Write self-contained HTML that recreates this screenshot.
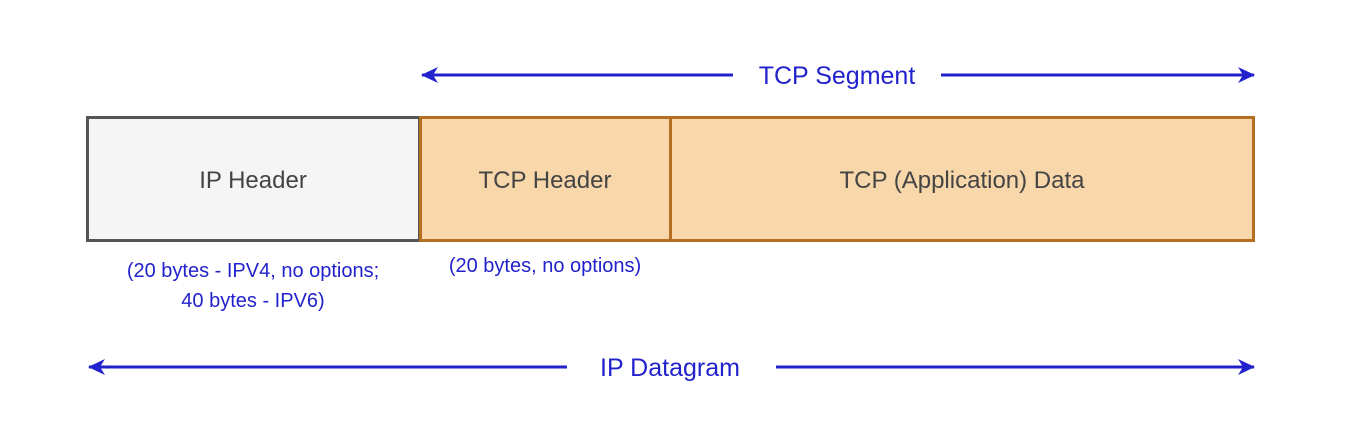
<!DOCTYPE html>
<html><head><style>body{margin:0;background:#fff}svg{display:block}</style></head>
<body>
<svg width="1368" height="444" viewBox="0 0 1368 444" xmlns="http://www.w3.org/2000/svg" font-family="Liberation Sans, sans-serif">
<defs>
<marker id="a" markerWidth="17" markerHeight="16" refX="16" refY="8" orient="auto-start-reverse" markerUnits="userSpaceOnUse" viewBox="0 0 17 16">
<path d="M0,0 L17,8 L0,16 L5,8 Z" fill="#2222cc"/></marker>
</defs>
<g stroke="#2222cc" stroke-width="3" fill="none">
<line x1="422" y1="75" x2="733" y2="75" marker-start="url(#a)"/>
<line x1="941" y1="75" x2="1254" y2="75" marker-end="url(#a)"/>
<line x1="89" y1="367" x2="567" y2="367" marker-start="url(#a)"/>
<line x1="776" y1="367" x2="1254" y2="367" marker-end="url(#a)"/>
</g>
<rect x="87.5" y="117.5" width="332" height="123" fill="#f5f5f5" stroke="#555" stroke-width="3"/>
<rect x="420.5" y="117.5" width="250" height="123" fill="#f8d7aa" stroke="#b46f22" stroke-width="3"/>
<rect x="670.5" y="117.5" width="583" height="123" fill="#f8d7aa" stroke="#b46f22" stroke-width="3"/>
<g fill="#444" font-size="24" text-anchor="middle">
<text x="253" y="188">IP Header</text>
<text x="545" y="188">TCP Header</text>
<text x="962" y="188">TCP (Application) Data</text>
</g>
<g fill="#2222cc" text-anchor="middle">
<text x="837" y="84" font-size="25">TCP Segment</text>
<text x="670" y="376" font-size="25">IP Datagram</text>
<text x="253" y="277" font-size="20">(20 bytes - IPV4, no options;</text>
<text x="253" y="307" font-size="20">40 bytes - IPV6)</text>
<text x="545" y="272" font-size="20">(20 bytes, no options)</text>
</g>
</svg>
</body></html>
